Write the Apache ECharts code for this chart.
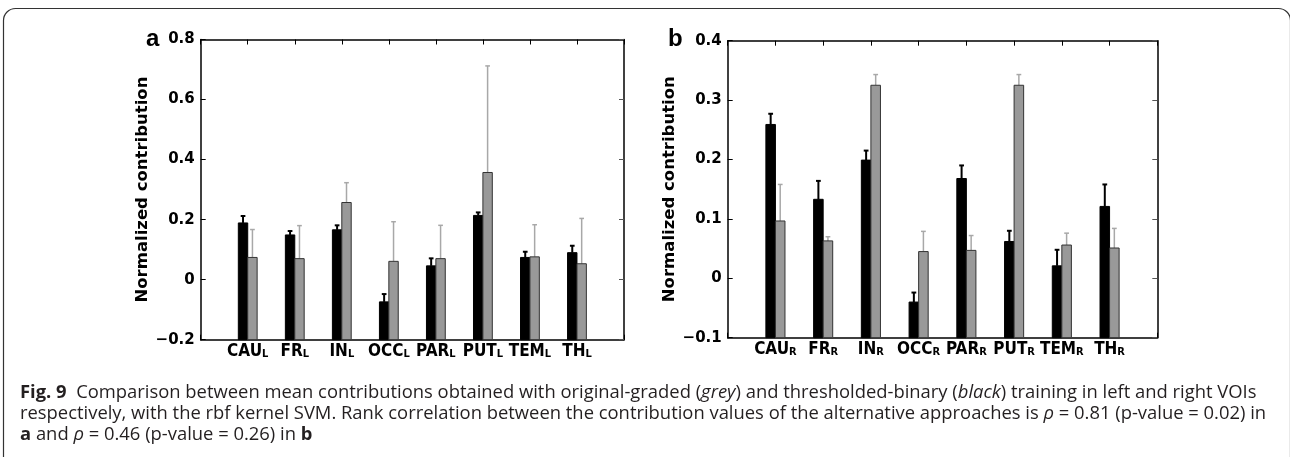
<!DOCTYPE html>
<html>
<head>
<meta charset="utf-8">
<script src="https://cdn.jsdelivr.net/npm/echarts@6/dist/echarts.min.js"></script>
<style>
  html, body { margin: 0; padding: 0; background: #fff; }
  #chart { width: 1290px; height: 457px; }
</style>
</head>
<body>
<div id="chart"></div>
<script>
// categories (VOIs)
var cats = ['CAU', 'FR', 'IN', 'OCC', 'PAR', 'PUT', 'TEM', 'TH'];

// panel a: left VOIs
var binaryL = [0.189, 0.149, 0.166, -0.074, 0.046, 0.214, 0.074, 0.090];
var binaryErrL = [0.023, 0.013, 0.015, 0.026, 0.025, 0.010, 0.019, 0.023];
var gradedL = [0.074, 0.070, 0.257, 0.061, 0.070, 0.357, 0.076, 0.053];
var gradedErrL = [0.093, 0.110, 0.066, 0.132, 0.111, 0.355, 0.107, 0.151];

// panel b: right VOIs
var binaryR = [0.259, 0.133, 0.199, -0.040, 0.168, 0.062, 0.021, 0.121];
var binaryErrR = [0.018, 0.031, 0.016, 0.016, 0.022, 0.018, 0.027, 0.037];
var gradedR = [0.0965, 0.063, 0.325, 0.045, 0.047, 0.325, 0.056, 0.051];
var gradedErrR = [0.0615, 0.007, 0.018, 0.034, 0.025, 0.018, 0.020, 0.033];

var yTicksL = { min: -0.2, max: 0.8, step: 0.2 };
var yTicksR = { min: -0.1, max: 0.4, step: 0.1 };

var chart = echarts.init(document.getElementById('chart'));

function toItems (vals, errs) {
  return vals.map(function (v, i) { return [i + 1, v, errs[i]]; });
}

// bar drawn from the bottom of the axis, error bar upward only
function barRenderer (x0, x1, ymin, fill, stroke, errColor, errWidth) {
  return function (params, api) {
    var x = api.value(0), y = api.value(1), e = api.value(2);
    var p0 = api.coord([x + x0, y]);
    var p1 = api.coord([x + x1, ymin]);
    var mid = x + (x0 + x1) / 2;
    var top = api.coord([mid, y + e]);
    var bot = api.coord([mid, y]);
    var capL = api.coord([mid - 0.05, y + e]);
    var capR = api.coord([mid + 0.05, y + e]);
    return {
      type: 'group',
      children: [
        {
          type: 'line',
          shape: { x1: top[0], y1: top[1], x2: bot[0], y2: bot[1] },
          style: { stroke: errColor, lineWidth: errWidth }
        },
        {
          type: 'line',
          shape: { x1: capL[0], y1: capL[1], x2: capR[0], y2: capR[1] },
          style: { stroke: errColor, lineWidth: errWidth }
        },
        {
          type: 'rect',
          shape: { x: p0[0], y: p0[1], width: p1[0] - p0[0], height: p1[1] - p0[1] },
          style: { fill: fill, stroke: stroke, lineWidth: 1 }
        }
      ]
    };
  };
}

function yFmt (v) {
  var s = String(+v.toFixed(2));
  return v < 0 ? '\u2212' + s.slice(1) : s;
}

var labelFont = '"Liberation Sans Narrow", "DejaVu Sans Condensed", sans-serif';

function xAxes (gi, sub) {
  var common = {
    type: 'value', gridIndex: gi, min: 0, max: 9, interval: 1,
    axisLine: { show: true, onZero: false, lineStyle: { color: '#000', width: 1.5 } },
    axisTick: { inside: true, length: 5, lineStyle: { color: '#000' } },
    splitLine: { show: false }
  };
  var bottom = Object.assign({}, common, {
    position: 'bottom',
    axisLabel: {
      margin: 3,
      formatter: function (v) {
        var i = Math.round(v) - 1;
        if (i < 0 || i > 7) return '';
        return '{m|' + cats[i] + '}{s|' + sub + '}';
      },
      rich: {
        m: { fontFamily: labelFont, fontWeight: 'bold', fontSize: 17, lineHeight: 17, verticalAlign: 'top', color: '#000' },
        s: { fontFamily: labelFont, fontWeight: 'bold', fontSize: 11, lineHeight: 8, verticalAlign: 'bottom', color: '#000' }
      }
    }
  });
  var top = Object.assign({}, common, { position: 'top', axisLabel: { show: false } });
  return [bottom, top];
}

function yAxes (gi, t) {
  var common = {
    type: 'value', gridIndex: gi, min: t.min, max: t.max, interval: t.step,
    axisLine: { show: true, onZero: false, lineStyle: { color: '#000', width: 1.5 } },
    splitLine: { show: false }
  };
  var left = Object.assign({}, common, {
    position: 'left',
    axisTick: { inside: true, length: 5, lineStyle: { color: '#000' } },
    axisLabel: { margin: 6, formatter: yFmt, fontFamily: '"DejaVu Sans"', fontWeight: 'bold', fontSize: 15, color: '#000' },
    name: 'Normalized contribution',
    nameLocation: 'middle',
    nameGap: 46,
    nameTextStyle: { fontFamily: '"DejaVu Sans"', fontWeight: 'bold', fontSize: 16.5, color: '#000' }
  });
  var right = Object.assign({}, common, {
    position: 'right',
    axisTick: { inside: true, length: 5, lineStyle: { color: '#555' } },
    axisLabel: { show: false }
  });
  return [left, right];
}

var xs = xAxes(0, 'L').concat(xAxes(1, 'R'));
var ys = yAxes(0, yTicksL).concat(yAxes(1, yTicksR));

var captionFont = '"Open Sans", "Noto Sans", sans-serif';
var capSize = 18.4;
var capRich = {
  b: { fontWeight: 'bold', fontFamily: captionFont, fontSize: capSize, fill: '#231f20' },
  i: { fontStyle: 'italic', fontFamily: captionFont, fontSize: capSize, fill: '#231f20' }
};

function capLine (txt, y) {
  return {
    type: 'text', left: 20, top: y,
    style: { text: txt, rich: capRich, fontFamily: captionFont, fontSize: capSize, fill: '#231f20' }
  };
}

var option = {
  animation: false,
  grid: [
    { left: 200.7, top: 39.5, width: 423.3, height: 300.2 },
    { left: 727.7, top: 40.7, width: 429.6, height: 297 }
  ],
  xAxis: xs,
  yAxis: ys,
  series: [
    {
      type: 'custom', xAxisIndex: 0, yAxisIndex: 0,
      renderItem: barRenderer(-0.2, 0, yTicksL.min, '#000', '#000', '#000', 2),
      data: toItems(binaryL, binaryErrL)
    },
    {
      type: 'custom', xAxisIndex: 0, yAxisIndex: 0,
      renderItem: barRenderer(0, 0.2, yTicksL.min, '#999', '#333', '#a8a8a8', 1.5),
      data: toItems(gradedL, gradedErrL)
    },
    {
      type: 'custom', xAxisIndex: 2, yAxisIndex: 2,
      renderItem: barRenderer(-0.2, 0, yTicksR.min, '#000', '#000', '#000', 2),
      data: toItems(binaryR, binaryErrR)
    },
    {
      type: 'custom', xAxisIndex: 2, yAxisIndex: 2,
      renderItem: barRenderer(0, 0.2, yTicksR.min, '#999', '#333', '#a8a8a8', 1.5),
      data: toItems(gradedR, gradedErrR)
    }
  ],
  graphic: [
    {
      type: 'rect', left: 1, top: 6,
      shape: { width: 1287, height: 460, r: 12 },
      style: { fill: 'none', stroke: '#333', lineWidth: 1.2 }
    },
    { type: 'text', left: 146, top: 27, style: { text: 'a', font: 'bold 24px "Liberation Sans", sans-serif', fill: '#000' } },
    { type: 'text', left: 668, top: 27, style: { text: 'b', font: 'bold 24px "Liberation Sans", sans-serif', fill: '#000' } },
    capLine('{b|Fig. 9}  Comparison between mean contributions obtained with original-graded ({i|grey}) and thresholded-binary ({i|black}) training in left and right VOIs', 384),
    capLine('respectively, with the rbf kernel SVM. Rank correlation between the contribution values of the alternative approaches is {i|\u03c1} = 0.81 (p-value = 0.02) in', 405),
    capLine('{b|a} and {i|\u03c1} = 0.46 (p-value = 0.26) in {b|b}', 426)
  ]
};

chart.setOption(option);
</script>
</body>
</html>
